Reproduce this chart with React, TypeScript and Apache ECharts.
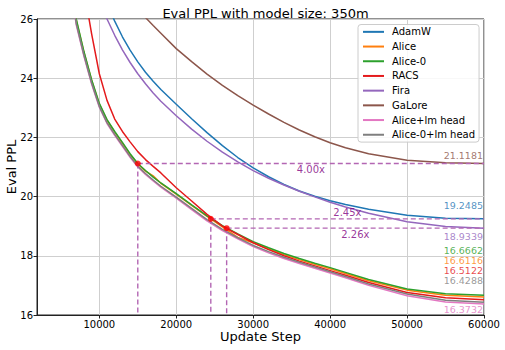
import { useEffect, useRef } from "react";
import * as echarts from "echarts";

const steps = [6000, 7000, 8000, 9000, 10000, 11000, 12000, 13000, 14000, 15000, 16000, 17000, 18000, 20000, 22000, 24000, 26000, 28000, 30000, 32000, 34000, 36000, 38000, 40000, 42000, 45000, 50000, 55000, 60000];

const adamw = [null, null, null, null, null, 26.5, 25.93, 25.4, 24.95, 24.55, 24.2, 23.9, 23.62, 23.12, 22.63, 22.16, 21.72, 21.32, 20.97, 20.67, 20.41, 20.19, 20.01, 19.86, 19.73, 19.57, 19.37, 19.27, 19.2485];
const alice = [27.85, 25.97, 24.88, 23.93, 23.13, 22.58, 22.18, 21.8, 21.42, 21.1, 20.86, 20.7, 20.45, 20.08, 19.7, 19.33, 18.98, 18.62, 18.44, 18.23, 18.04, 17.87, 17.71, 17.56, 17.4, 17.16, 16.84, 16.67, 16.6116];
const alice0 = [27.9, 26.0, 24.9, 23.95, 23.15, 22.6, 22.2, 21.83, 21.45, 21.12, 20.88, 20.66, 20.46, 20.1, 19.72, 19.35, 19.02, 18.74, 18.48, 18.27, 18.08, 17.91, 17.75, 17.6, 17.44, 17.2, 16.88, 16.72, 16.6662];
const racs = [null, null, 27.0, 25.5, 24.15, 23.25, 22.62, 22.2, 21.85, 21.52, 21.25, 21.02, 20.8, 20.3, 19.85, 19.4, 19.0, 18.72, 18.44, 18.21, 18.0, 17.82, 17.66, 17.5, 17.34, 17.1, 16.76, 16.58, 16.5122];
const fira = [null, null, null, null, 26.6, 26.0, 25.45, 24.96, 24.53, 24.15, 23.81, 23.5, 23.22, 22.73, 22.28, 21.87, 21.5, 21.17, 20.88, 20.62, 20.39, 20.18, 19.99, 19.81, 19.65, 19.44, 19.15, 18.99, 18.9339];
const galore = [null, null, null, null, null, null, null, null, null, 26.35, 26.05, 25.78, 25.52, 25.0, 24.56, 24.14, 23.76, 23.41, 23.09, 22.79, 22.51, 22.25, 22.02, 21.82, 21.65, 21.45, 21.23, 21.14, 21.1181];
const aliceLm = [27.65, 25.8, 24.74, 23.8, 23.02, 22.47, 22.07, 21.7, 21.33, 21.0, 20.75, 20.53, 20.32, 19.95, 19.56, 19.18, 18.85, 18.57, 18.31, 18.1, 17.91, 17.74, 17.58, 17.42, 17.26, 17.0, 16.65, 16.44, 16.3732];
const alice0Lm = [27.7, 25.85, 24.78, 23.84, 23.05, 22.5, 22.1, 21.73, 21.36, 21.03, 20.78, 20.56, 20.35, 19.98, 19.6, 19.22, 18.89, 18.61, 18.35, 18.14, 17.95, 17.78, 17.62, 17.46, 17.3, 17.05, 16.71, 16.5, 16.4288];

const names = ["AdamW", "Alice", "Alice-0", "RACS", "Fira", "GaLore", "Alice+lm head", "Alice-0+lm head"];
const values = [adamw, alice, alice0, racs, fira, galore, aliceLm, alice0Lm];
const colors = ["#1f77b4", "#ff7f0e", "#2ca02c", "#e41a1c", "#9467bd", "#8c564b", "#e377c2", "#7f7f7f"];

// final-value annotation text positions (in data units on the y axis)
const endLabelY = [19.69, 17.83, 18.18, 17.50, 18.64, 21.40, 16.20, 17.15];

const speedups = ["4.00x", "2.45x", "2.26x"];
const matchSteps = [15000, 24490, 26549];
const matchTargets = [21.1181, 19.2485, 18.9339];
const speedupLabelSide = ["bottom", "top", "bottom"];

const xTicks = [10000, 20000, 30000, 40000, 50000, 60000];
const X_MIN = 1900;
const X_MAX = 60000;
const Y_MIN = 16;
const Y_MAX = 26;

const FONT = "DejaVu Sans";
const GUIDE = "#b366b3";

export default function App() {
  const ref = useRef<HTMLDivElement>(null);
  useEffect(() => {
    if (!ref.current) return;
    const chart = echarts.init(ref.current, undefined, { renderer: "svg" });

    const lineSeries: any[] = names.map((name, i) => ({
      name,
      type: "line",
      data: steps.map((s, j) => [s, values[i][j]]),
      showSymbol: false,
      symbol: "none",
      clip: true,
      lineStyle: { color: colors[i], width: 1.5 },
      itemStyle: { color: colors[i] },
      z: 2 + i * 0.01,
    }));

    const guideSeries: any[] = [];
    matchSteps.forEach((s, k) => {
      guideSeries.push({
        type: "line",
        data: [[s, matchTargets[k]], [X_MAX, matchTargets[k]]],
        showSymbol: false,
        symbol: "none",
        silent: true,
        lineStyle: { color: GUIDE, width: 1.4, type: [5, 3] },
        z: 4,
      });
      guideSeries.push({
        type: "line",
        data: [[s, matchTargets[k]], [s, Y_MIN]],
        showSymbol: false,
        symbol: "none",
        silent: true,
        lineStyle: { color: GUIDE, width: 1.4, type: [5, 3] },
        z: 4,
      });
    });

    const dots = {
      type: "scatter",
      data: matchSteps.map((s, k) => [s, matchTargets[k]]),
      symbolSize: 6,
      itemStyle: { color: "#ff0000" },
      silent: true,
      z: 10,
    };

    const speedupLabels = {
      type: "scatter",
      data: matchSteps.map((s, k) => ({
        value: [(s + X_MAX) / 2, matchTargets[k]],
        label: {
          show: true,
          formatter: speedups[k],
          position: speedupLabelSide[k],
          distance: 1,
        },
      })),
      symbolSize: 0,
      silent: true,
      label: { color: "#800080", fontSize: 10, fontFamily: FONT },
      z: 11,
    };

    const endLabels = {
      type: "scatter",
      data: names.map((n, i) => ({
        value: [X_MAX, endLabelY[i]],
        label: {
          show: true,
          formatter: (values[i][values[i].length - 1] as number).toFixed(4),
          position: "left",
          distance: 1,
          color: colors[i],
        },
      })),
      symbolSize: 0,
      silent: true,
      label: { fontSize: 9.5, lineHeight: 8, fontFamily: FONT },
      z: 11,
    };

    chart.setOption({
      animation: false,
      textStyle: { fontFamily: FONT },
      title: {
        text: "Eval PPL with model size: 350m",
        left: 260.5,
        textAlign: "center",
        top: 2,
        textStyle: { fontSize: 13, fontWeight: "normal", color: "#000", fontFamily: FONT },
      },
      grid: {
        left: 37,
        right: 21,
        top: 19,
        bottom: 35,
        show: true,
        borderColor: "#222",
        borderWidth: 1,
        containLabel: false,
        outerBoundsMode: "none",
      },
      legend: {
        data: names,
        orient: "vertical",
        left: 358,
        top: 24.5,
        padding: [0, 4, 0, 5],
        itemGap: 0,
        itemWidth: 21,
        itemHeight: 2,
        icon: "rect",
        backgroundColor: "rgba(255,255,255,0.85)",
        borderColor: "#cccccc",
        borderWidth: 1,
        borderRadius: 3,
        textStyle: { fontSize: 10, fontFamily: FONT, color: "#000", lineHeight: 14.7, padding: [0, 0, 0, 3] },
      },
      xAxis: {
        type: "value",
        min: X_MIN,
        max: X_MAX,
        name: "Update Step",
        nameLocation: "middle",
        nameGap: 15,
        nameMoveOverlap: false,
        nameTextStyle: { fontSize: 13, color: "#000", fontFamily: FONT },
        axisLine: { show: true, lineStyle: { color: "#222", width: 1 } },
        axisTick: { show: true, length: 3.5, customValues: xTicks, lineStyle: { color: "#222" } },
        axisLabel: {
          customValues: xTicks,
          fontSize: 10,
          color: "#000",
          margin: 4,
          fontFamily: FONT,
          formatter: (v: number) => String(v),
        },
        splitLine: { show: true, lineStyle: { color: "#cfcfcf", width: 1 } },
      },
      yAxis: {
        type: "value",
        min: Y_MIN,
        max: Y_MAX,
        interval: 2,
        name: "Eval PPL",
        nameLocation: "middle",
        nameGap: 19,
        nameMoveOverlap: false,
        nameTextStyle: { fontSize: 13, color: "#000", fontFamily: FONT },
        axisLine: { show: true, lineStyle: { color: "#222", width: 1 } },
        axisTick: { show: true, length: 3.5, lineStyle: { color: "#222" } },
        axisLabel: { fontSize: 10, color: "#000", margin: 4, fontFamily: FONT },
        splitLine: { show: true, lineStyle: { color: "#cfcfcf", width: 1 } },
      },
      series: [...guideSeries, ...lineSeries, dots, speedupLabels, endLabels],
    });

    return () => chart.dispose();
  }, []);

  return (
    <div
      ref={ref}
      style={{ position: "absolute", left: 0, top: 0, width: 505, height: 350, background: "#fff" }}
    />
  );
}
